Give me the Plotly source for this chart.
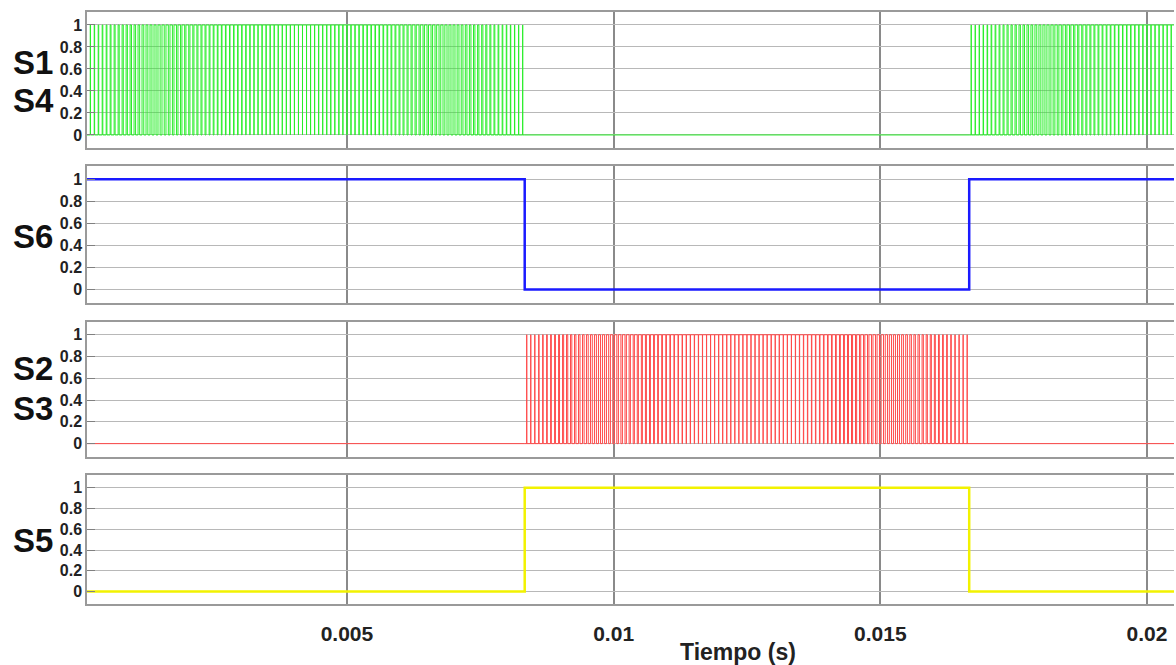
import plotly.graph_objects as go
from plotly.subplots import make_subplots

# ---------------- data ----------------
half_cycle_bounds = [0.0, 0.008333, 0.016667, 0.025]   # s
s6_levels = [1, 0, 1]
s5_levels = [0, 1, 0]
s14_pwm_on = [1, 0, 1]
s23_pwm_on = [0, 1, 0]
# pulse duty per carrier period within one half cycle
pulse_duty = [0.01, 0.04, 0.07, 0.10, 0.13, 0.16, 0.18, 0.21, 0.24, 0.27,
              0.30, 0.32, 0.35, 0.38, 0.40, 0.43, 0.45, 0.48, 0.50, 0.53,
              0.55, 0.58, 0.60, 0.62, 0.64, 0.67, 0.69, 0.71, 0.73, 0.75,
              0.76, 0.78, 0.80, 0.82, 0.83, 0.85, 0.86, 0.88, 0.89, 0.90,
              0.92, 0.93, 0.94, 0.95, 0.96, 0.96, 0.97, 0.98, 0.98, 0.99,
              0.99, 0.99, 0.99, 0.99, 0.99,
              0.99, 0.99, 0.99, 0.99, 0.99, 0.99, 0.98, 0.98, 0.97, 0.96,
              0.96, 0.95, 0.94, 0.93, 0.92, 0.90, 0.89, 0.88, 0.86, 0.85,
              0.83, 0.82, 0.80, 0.78, 0.76, 0.75, 0.73, 0.71, 0.69, 0.67,
              0.64, 0.62, 0.60, 0.58, 0.55, 0.53, 0.50, 0.48, 0.45, 0.43,
              0.40, 0.38, 0.35, 0.32, 0.30, 0.27, 0.24, 0.21, 0.18, 0.16,
              0.13, 0.10, 0.07, 0.04, 0.01]
x_range = [0.000126, 0.020507]
x_ticks = [0.005, 0.01, 0.015, 0.02]
x_tick_text = ["0.005", "0.01", "0.015", "0.02"]
y_ticks = [0, 0.2, 0.4, 0.6, 0.8, 1]
y_tick_text = ["0", "0.2", "0.4", "0.6", "0.8", "1"]
y_range = [-0.12, 1.12]


def pwm_xy(active):
    xs, ys = [], []
    for i, on in enumerate(active):
        a, b = half_cycle_bounds[i], half_cycle_bounds[i + 1]
        xs.append(a)
        ys.append(0)
        if on:
            T = (b - a) / len(pulse_duty)
            for k, d in enumerate(pulse_duty):
                c = a + (k + 0.5) * T
                xs += [c - d * T / 2, c + d * T / 2]
                ys += [1, 0]
    xs.append(half_cycle_bounds[-1])
    ys.append(0)
    return xs, ys


def step_xy(levels):
    return list(half_cycle_bounds), list(levels) + [levels[-1]]


fig = make_subplots(rows=4, cols=1, shared_xaxes=True)

x1, y1 = pwm_xy(s14_pwm_on)
fig.add_trace(go.Scatter(x=x1, y=y1, mode="lines", line_shape="hv", line_simplify=False,
                         line=dict(color="#2aee2a", width=1)), row=1, col=1)
x2, y2 = step_xy(s6_levels)
fig.add_trace(go.Scatter(x=x2, y=y2, mode="lines", line_shape="hv",
                         line=dict(color="#1a1aff", width=2.5)), row=2, col=1)
x3, y3 = pwm_xy(s23_pwm_on)
fig.add_trace(go.Scatter(x=x3, y=y3, mode="lines", line_shape="hv", line_simplify=False,
                         line=dict(color="#ff4a4a", width=1)), row=3, col=1)
x4, y4 = step_xy(s5_levels)
fig.add_trace(go.Scatter(x=x4, y=y4, mode="lines", line_shape="hv",
                         line=dict(color="#f2f200", width=2.5)), row=4, col=1)

domains = [[0.7687, 0.9987], [0.5081, 0.7386], [0.2484, 0.4761], [0.0, 0.2170]]
tickfont_y = dict(family="Liberation Sans", size=16, color="#222222", weight="bold")
tickfont_x = dict(family="Liberation Sans", size=21, color="#222222", weight="bold")

for i in range(4):
    n = "" if i == 0 else str(i + 1)
    fig.layout["yaxis" + n].update(
        domain=domains[i], range=y_range, tickvals=y_ticks, ticktext=y_tick_text,
        showgrid=True, gridcolor="#b8b8b8", gridwidth=1, zeroline=False,
        showline=True, linecolor="#9a9a9a", linewidth=1.5,
        ticks="inside", ticklen=8, tickcolor="#808080",
        tickfont=tickfont_y, fixedrange=True)
    fig.layout["xaxis" + n].update(
        range=x_range, tickvals=x_ticks, ticktext=x_tick_text,
        showgrid=True, gridcolor="#8a8a8a", gridwidth=1.5, zeroline=False,
        showline=True, linecolor="#9a9a9a", linewidth=1.5, mirror=True,
        showticklabels=(i == 3), tickfont=tickfont_x, ticks="", ticklabelstandoff=10)

labels = [("S1", 62), ("S4", 100), ("S6", 236), ("S2", 368), ("S3", 408), ("S5", 540)]
annos = []
for txt, ypx in labels:
    annos.append(dict(text=txt, xref="paper", yref="paper",
                      x=(33 - 87) / 1087, y=(604 - ypx) / 593,
                      xanchor="center", yanchor="middle", showarrow=False,
                      font=dict(family="Liberation Sans", size=33, color="#111111", weight="bold")))
annos.append(dict(text="Tiempo (s)", xref="paper", yref="paper",
                  x=(738 - 87) / 1087, y=(604 - 652) / 593,
                  xanchor="center", yanchor="middle", showarrow=False,
                  font=dict(family="Liberation Sans", size=23, color="#222222", weight="bold")))

fig.update_layout(width=1176, height=665, margin=dict(l=87, r=2, t=11, b=61),
                  paper_bgcolor="white", plot_bgcolor="white", showlegend=False,
                  annotations=annos)

fig.write_html("out.html", config={"displayModeBar": False},
               post_script="document.body.style.margin='0';document.body.style.overflow='hidden';")
